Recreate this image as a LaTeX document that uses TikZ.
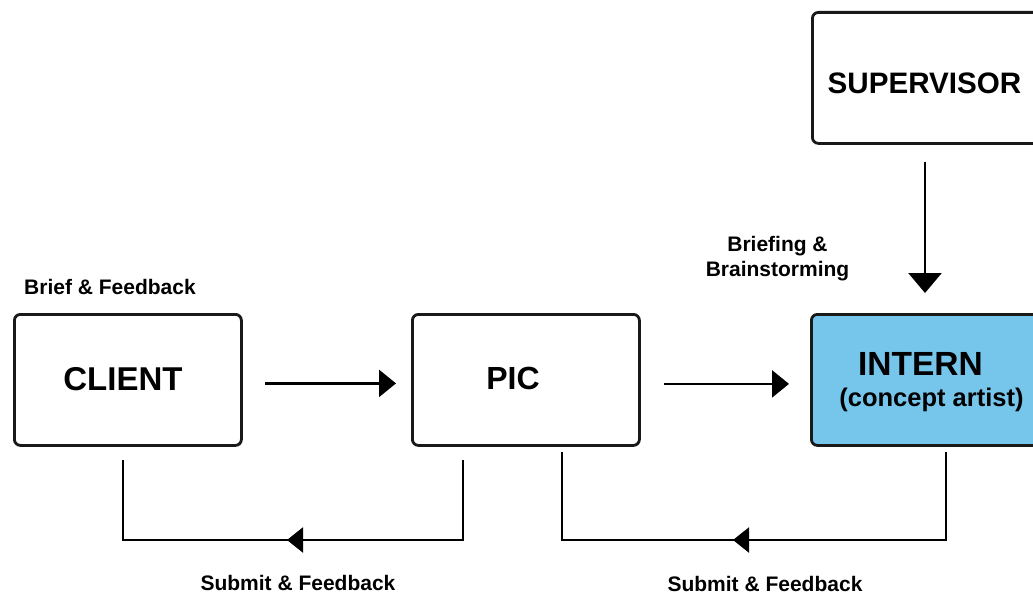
\documentclass[tikz,border=0pt]{standalone}
\usepackage{fontspec}
\setmainfont{Liberation Sans}
\usetikzlibrary{arrows.meta}
\definecolor{internblue}{RGB}{118,198,236}
\begin{document}
\begin{tikzpicture}[x=1pt,y=-1pt,
  box/.style={draw=black!90, line width=2.8pt, rounded corners=6pt, inner sep=0pt, anchor=north west},
  lbl/.style={font=\bfseries\fontsize{21}{25}\selectfont, inner sep=0pt, anchor=base},
  ttl/.style={inner sep=0pt, anchor=base},
  conn/.style={line width=2.6pt, -{Triangle[length=17pt,width=27pt]}},
  bigconn/.style={line width=2.6pt, -{Triangle[length=20pt,width=33pt]}},
  loopline/.style={line width=2.2pt},
  looparrow/.style={line width=2.2pt, -{Triangle[length=16pt,width=25pt]}},
]
\useasboundingbox (0,0) rectangle (1033,594);

% boxes
\node[box, minimum width=227pt, minimum height=131pt] (client) at (13,313) {};
\node[box, minimum width=227pt, minimum height=131pt] (pic) at (411,313) {};
\node[box, fill=internblue, minimum width=240pt, minimum height=131pt] (intern) at (810,313) {};
\node[box, minimum width=240pt, minimum height=131pt] (supervisor) at (811,11) {};

% box texts
\node[ttl, font=\bfseries\fontsize{33}{38}\selectfont] (clientt) at (123,390.9) {CLIENT};
\node[ttl, font=\bfseries\fontsize{32}{38}\selectfont] (pict) at (513,389.5) {PIC};
\node[ttl, font=\bfseries\fontsize{33.5}{38}\selectfont] (internt) at (920.5,375) {INTERN};
\node[ttl, font=\bfseries\fontsize{25.5}{30}\selectfont] (conceptt) at (931.5,406.6) {(concept artist)};
\node[ttl, font=\bfseries\fontsize{29.6}{34}\selectfont] (supervisort) at (924.5,93.7) {SUPERVISOR};

% labels
\node[lbl] (brieffb) at (110,294.6) {Brief \& Feedback};
\node[lbl] (briefa) at (777.5,251.6) {Briefing \&};
\node[lbl] (briefb) at (777.5,276.6) {Brainstorming};
\node[lbl] (submita) at (298,590.6) {Submit \& Feedback};
\node[lbl] (submitb) at (765,591.6) {Submit \& Feedback};

% horizontal connectors
\draw[conn] ([xshift=22pt,yshift=-3.5pt]client.east) -- ([xshift=-15pt,yshift=-3.5pt]pic.west);
\draw[conn] ([xshift=23pt,yshift=-4pt]pic.east) -- ([xshift=-21pt,yshift=-4pt]intern.west);

% supervisor to intern
\coordinate (sva) at (925,162);
\coordinate (svb) at (925,293);
\draw[bigconn] (sva) -- (svb);

% loop PIC -> CLIENT
\coordinate (la) at (463,460);
\coordinate (lb) at (463,540);
\coordinate (lc) at (123,540);
\coordinate (ld) at (123,460);
\coordinate (ltip) at (287,540);
\draw[loopline, line join=miter] (la) -- (lb) -- (lc) -- (ld);
\draw[looparrow] (lb) -- (ltip);

% loop INTERN -> PIC
\coordinate (ra) at (946,452);
\coordinate (rb) at (946,540);
\coordinate (rc) at (562,540);
\coordinate (rd) at (562,452);
\coordinate (rtip) at (733,540);
\draw[loopline, line join=miter] (ra) -- (rb) -- (rc) -- (rd);
\draw[looparrow] (rb) -- (rtip);
\end{tikzpicture}
\end{document}
